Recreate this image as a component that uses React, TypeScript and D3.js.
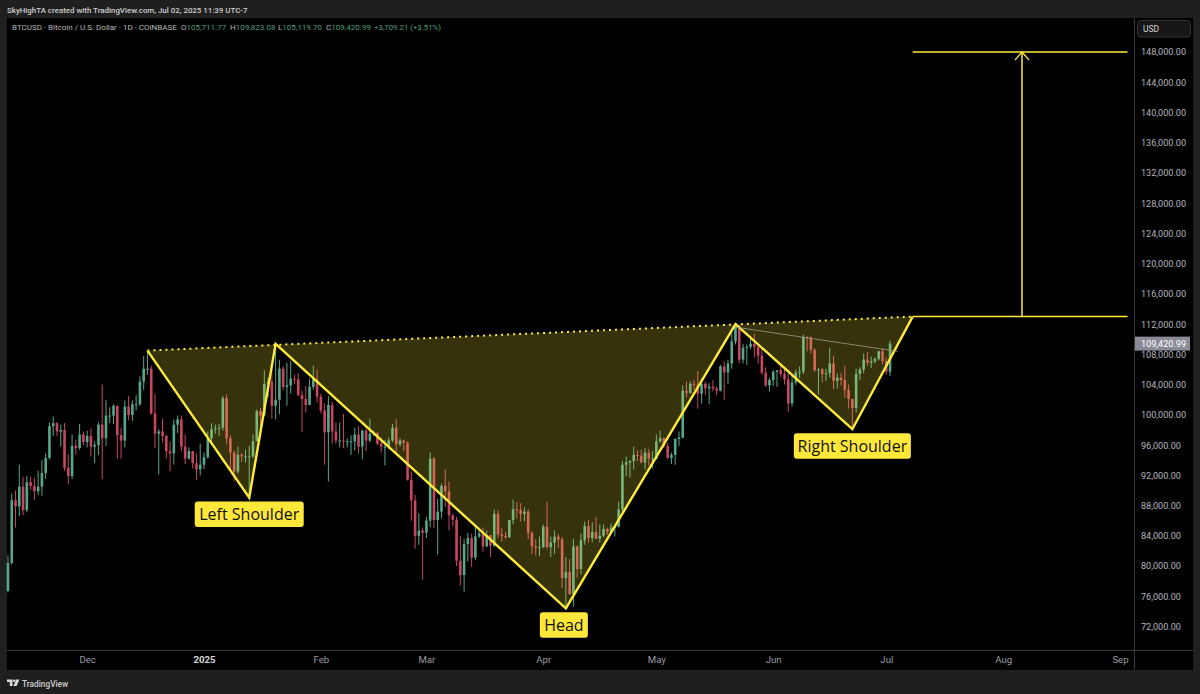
import React, { useEffect, useRef } from 'react';
import * as d3 from 'd3';

// daily candles in thousands of USD, starting 2024-11-10
const closes = [
  80.4, 88.7, 87.9, 90.5, 87.4, 91.1, 90.6, 89.9, 90.5, 92.3, 94.3, 98.5, 98.9, 97.8, 98.0, 93.0, 91.9, 95.9, 95.6, 97.4, 96.4,
  97.2, 95.8, 96.0, 98.7, 96.9, 99.9, 99.9, 101.2, 97.3, 96.6, 101.1, 100.0, 101.4, 101.4, 104.4, 106.1, 106.1, 100.2, 97.5, 97.8, 97.2, 95.2, 94.9, 98.7, 99.4, 95.8, 94.2, 95.2, 93.6, 92.8, 93.4,
  94.4, 96.9, 98.1, 98.2, 98.3, 102.2, 96.9, 95.0, 92.5, 94.7, 94.5, 94.5, 94.5, 96.5, 100.5, 99.9, 104.1, 104.4, 101.2, 102.0, 106.1, 103.7, 103.9, 104.8, 104.7, 102.6, 102.1, 101.3, 103.7, 104.7, 102.4,
  100.6, 97.7, 101.3, 97.8, 96.6, 96.6, 96.5, 96.5, 96.5, 97.4, 95.8, 97.9, 96.6, 97.5, 97.6, 96.2, 95.8, 95.8, 96.6, 98.3, 96.1, 96.6, 96.3, 91.4, 88.7, 84.0, 84.7, 84.4,
  86.0, 94.2, 86.1, 87.2, 90.6, 89.9, 86.7, 86.1, 80.7, 78.8, 82.9, 83.7, 81.1, 83.9, 84.3, 82.6, 84.1, 82.7, 86.9, 84.2, 84.0, 83.8, 86.1, 87.5, 87.4, 86.9, 87.2, 84.4, 82.6, 82.4, 82.5,
  85.2, 82.5, 83.1, 83.9, 83.5, 78.4, 79.2, 76.3, 82.6, 79.6, 83.4, 85.3, 83.7, 84.5, 83.6, 84.0, 84.9, 84.5, 85.1, 85.2, 87.5, 93.4, 93.7, 93.9, 94.7, 94.6, 93.7, 95.0, 94.2, 94.2,
  96.5, 96.9, 95.9, 94.3, 94.7, 96.8, 97.0, 103.2, 102.9, 104.1, 104.0, 102.8, 104.1, 103.5, 103.7, 103.5, 103.2, 106.4, 105.6, 106.8, 109.7, 111.7, 107.3, 108.9, 109.0, 109.4, 109.0, 107.8, 105.6, 103.9, 104.6,
  105.7, 105.9, 105.4, 104.7, 101.5, 104.3, 105.6, 105.7, 110.3, 110.2, 108.6, 105.9, 106.0, 105.4, 105.5, 106.8, 104.5, 104.9, 104.6, 103.3, 102.1, 100.9, 105.4, 106.0, 107.3, 106.9, 107.1, 107.4, 108.4, 107.1,
  105.7, 109.42,
];
const highs = [
  81.4, 89.6, 90.0, 93.4, 91.8, 91.9, 91.8, 91.7, 92.6, 94.0, 94.9, 99.0, 99.8, 99.0, 98.7, 98.9, 94.8, 97.4, 96.7, 98.8, 97.8,
  97.9, 98.2, 96.5, 99.0, 104.0, 102.0, 101.0, 101.4, 101.2, 98.3, 101.9, 102.5, 101.9, 102.6, 105.1, 107.8, 108.3, 106.5, 102.8, 98.1, 99.5, 97.4, 96.5, 99.4, 99.9, 99.9, 97.4, 95.7, 95.2, 94.9, 96.2,
  95.0, 97.8, 98.9, 98.7, 98.8, 102.5, 102.7, 97.3, 95.3, 95.8, 95.0, 95.4, 95.9, 97.4, 100.7, 100.9, 105.9, 104.9, 106.3, 109.4, 107.3, 106.4, 106.9, 107.1, 105.3, 105.5, 103.2, 103.8, 104.8, 106.5, 106.0,
  102.8, 101.5, 102.5, 101.7, 99.0, 99.0, 100.1, 96.9, 97.3, 98.3, 98.5, 98.1, 98.2, 99.5, 97.9, 97.7, 97.0, 96.7, 97.0, 98.8, 99.5, 96.9, 96.7, 96.5, 92.5, 89.4, 87.0, 85.1,
  86.5, 95.0, 94.4, 88.9, 90.9, 92.8, 91.2, 86.9, 86.5, 84.0, 83.6, 84.4, 84.3, 85.3, 84.7, 85.1, 84.7, 84.1, 87.5, 87.4, 85.0, 84.5, 86.0, 88.8, 88.5, 88.3, 87.8, 87.5, 84.6, 83.5, 83.9,
  85.5, 88.5, 83.9, 84.7, 84.2, 83.8, 81.2, 80.9, 83.6, 82.7, 84.3, 85.9, 86.1, 85.8, 86.5, 85.5, 85.5, 85.1, 85.6, 85.3, 88.5, 93.9, 94.5, 94.0, 95.8, 95.3, 95.4, 95.6, 95.5, 95.2,
  97.4, 97.9, 97.0, 96.3, 95.0, 96.9, 97.8, 103.9, 104.4, 104.4, 104.6, 105.8, 104.8, 104.4, 104.2, 104.6, 103.7, 106.6, 107.1, 107.3, 110.8, 112.0, 111.9, 109.4, 109.3, 110.4, 110.7, 109.3, 108.9, 106.3, 104.9,
  105.9, 105.9, 106.8, 106.0, 105.9, 105.3, 106.0, 106.4, 110.6, 110.4, 110.4, 108.8, 106.2, 106.2, 106.1, 108.9, 107.8, 105.5, 105.5, 106.5, 104.0, 102.1, 106.1, 106.3, 108.1, 108.3, 107.7, 107.6, 108.5, 108.8,
  107.6, 109.82,
];
const lows = [
  76.5, 80.2, 85.1, 86.6, 86.7, 87.1, 90.1, 88.7, 89.4, 89.3, 91.5, 94.1, 97.2, 97.2, 95.8, 92.6, 90.8, 91.5, 94.7, 95.4, 96.0,
  95.7, 94.5, 93.6, 94.7, 91.5, 95.9, 98.9, 98.8, 94.2, 94.2, 95.7, 99.3, 99.2, 100.6, 101.2, 103.3, 105.3, 100.0, 95.6, 92.1, 96.4, 94.2, 92.5, 93.4, 97.6, 95.2, 93.5, 94.1, 92.9, 91.4, 92.0,
  92.8, 94.2, 96.1, 97.5, 97.2, 97.9, 96.1, 92.5, 91.2, 92.2, 93.8, 93.7, 89.3, 94.3, 96.5, 97.3, 99.9, 102.3, 99.5, 99.4, 100.1, 103.3, 101.2, 102.8, 104.1, 102.5, 97.7, 100.3, 101.3, 103.3, 101.6,
  100.2, 93.4, 91.2, 96.2, 96.2, 95.7, 95.6, 95.7, 94.7, 95.3, 94.9, 94.1, 95.2, 96.4, 97.2, 96.0, 95.0, 93.3, 95.5, 96.4, 94.8, 95.8, 95.2, 91.3, 86.0, 82.3, 82.8, 78.2,
  83.7, 85.1, 85.0, 81.5, 86.3, 87.8, 84.7, 85.3, 80.0, 77.4, 76.6, 80.6, 79.9, 80.8, 83.7, 81.9, 82.5, 81.2, 82.5, 83.7, 83.2, 83.6, 83.8, 85.5, 86.3, 85.9, 85.9, 83.6, 81.6, 81.4, 81.3,
  82.4, 82.3, 81.2, 81.6, 82.4, 77.1, 74.4, 76.2, 74.6, 78.4, 78.9, 82.8, 83.1, 83.2, 83.6, 83.1, 83.8, 84.1, 84.4, 83.9, 85.1, 87.1, 91.9, 91.7, 92.8, 93.9, 93.6, 92.8, 93.3, 92.9,
  94.1, 96.3, 95.6, 94.2, 93.5, 93.4, 95.9, 96.9, 102.3, 102.8, 103.3, 100.8, 101.5, 102.6, 101.4, 103.1, 102.6, 103.1, 102.0, 104.1, 106.1, 109.3, 106.8, 106.8, 106.6, 108.7, 107.6, 106.8, 105.3, 103.7, 103.1,
  103.8, 103.7, 105.0, 104.0, 100.4, 101.1, 103.9, 104.9, 105.4, 108.4, 108.1, 105.7, 102.7, 104.3, 104.5, 104.9, 103.4, 103.5, 103.9, 102.3, 100.8, 98.2, 100.3, 104.6, 105.5, 106.5, 106.2, 106.8, 107.2, 106.7,
  105.3, 105.12,
];
const opens = [76.7, ...closes.slice(0, -1)];
const candleDates = d3.utcDay.range(new Date(Date.UTC(2024, 10, 10)), new Date(Date.UTC(2025, 6, 3)));

const priceTicks = d3.range(72, 149, 4);
const monthTicks = [
  new Date(Date.UTC(2024, 11, 1)), new Date(Date.UTC(2025, 0, 1)), new Date(Date.UTC(2025, 1, 1)),
  new Date(Date.UTC(2025, 2, 1)), new Date(Date.UTC(2025, 3, 1)), new Date(Date.UTC(2025, 4, 1)),
  new Date(Date.UTC(2025, 5, 1)), new Date(Date.UTC(2025, 6, 1)), new Date(Date.UTC(2025, 7, 1)),
  new Date(Date.UTC(2025, 8, 1)),
];

// inverse head and shoulders drawing
const patternDates = [
  new Date(Date.UTC(2024, 11, 17)), new Date(Date.UTC(2025, 0, 13)), new Date(Date.UTC(2025, 0, 20)),
  new Date(Date.UTC(2025, 3, 7)), new Date(Date.UTC(2025, 4, 22)), new Date(Date.UTC(2025, 5, 22)),
  new Date(Date.UTC(2025, 6, 8)),
];
const patternPrices = [108.5, 89.05, 109.4, 74.4, 112.0, 98.1, 113.0];
const neckPrice = 113.0;
const targetPrice = 148.0;
const targetStart = new Date(Date.UTC(2025, 6, 8));
const targetEnd = new Date(Date.UTC(2025, 8, 3));
const arrowDate = new Date(Date.UTC(2025, 7, 6));
const thinLineDates = [new Date(Date.UTC(2025, 4, 22)), new Date(Date.UTC(2025, 6, 4))];
const thinLinePrices = [111.6, 108.4];
const labelTexts = ['Left Shoulder', 'Head', 'Right Shoulder'];
const labelPoints = [1, 3, 5];
const labelWidths = [109, 48, 117];

const lastPrice = 109.42099;
const legendName = 'BTCUSD · Bitcoin / U.S. Dollar · 1D · COINBASE';
const legendKeys = ['O', 'H', 'L', 'C'];
const legendValues = ['105,711.77', '109,823.08', '105,119.70', '109,420.99'];
const legendChange = '+3,709.21 (+3.51%)';
const headerText = 'SkyHighTA created with TradingView.com, Jul 02, 2025 11:39 UTC-7';

const YELLOW = '#ffeb3b';
const UP = '#55a88a';
const DOWN = '#c8465f';
const GREY = '#b2b5be';
const FONT = 'Roboto, "Liberation Sans", sans-serif';

const App = () => {
  const ref = useRef<SVGSVGElement>(null);

  useEffect(() => {
    const svg = d3.select(ref.current);
    svg.selectAll('*').remove();
    svg.style('font-family', FONT);

    const x = d3.scaleUtc()
      .domain([new Date(Date.UTC(2025, 0, 1)), new Date(Date.UTC(2025, 8, 1))])
      .range([204, 1120]);
    const y = d3.scaleLinear().domain([72, 148]).range([626.5, 52]);

    // panels
    svg.append('rect').attr('width', 1200).attr('height', 694).attr('fill', '#1f1f1f');
    svg.append('rect').attr('x', 7).attr('y', 18).attr('width', 1186).attr('height', 652).attr('fill', '#000');
    svg.append('line').attr('x1', 7).attr('x2', 1193).attr('y1', 650.5).attr('y2', 650.5).attr('stroke', '#3a3a3a');
    svg.append('line').attr('x1', 1134.5).attr('x2', 1134.5).attr('y1', 18).attr('y2', 670).attr('stroke', '#3a3a3a');

    svg.append('text').attr('x', 7).attr('y', 13).attr('fill', '#cfcfcf').attr('font-size', 7.9)
      .attr('font-weight', 500).text(headerText);

    // candles
    const candles = svg.append('g');
    candleDates.forEach((d, i) => {
      const o = opens[i];
      const c = closes[i];
      const col = c >= o ? UP : DOWN;
      const cx = x(d);
      candles.append('line').attr('x1', cx).attr('x2', cx).attr('y1', y(highs[i])).attr('y2', y(lows[i]))
        .attr('stroke', col).attr('stroke-width', 1);
      candles.append('rect').attr('x', cx - 1.3).attr('width', 2.6)
        .attr('y', y(Math.max(o, c))).attr('height', Math.max(1, Math.abs(y(o) - y(c))))
        .attr('fill', col);
    });

    // pattern fill, lines
    const line = d3.line<number>()
      .x((i) => x(patternDates[i]))
      .y((i) => y(patternPrices[i]));
    const idx = d3.range(patternDates.length);
    svg.append('path').attr('d', line(idx) + 'Z').attr('fill', YELLOW).attr('fill-opacity', 0.21);
    svg.append('path').attr('d', line(idx)).attr('fill', 'none').attr('stroke', YELLOW).attr('stroke-width', 2.4);
    svg.append('line')
      .attr('x1', x(patternDates[0])).attr('y1', y(patternPrices[0]))
      .attr('x2', x(patternDates[6])).attr('y2', y(patternPrices[6]))
      .attr('stroke', YELLOW).attr('stroke-width', 2).attr('stroke-dasharray', '2 4');
    svg.append('line')
      .attr('x1', x(thinLineDates[0])).attr('y1', y(thinLinePrices[0]))
      .attr('x2', x(thinLineDates[1])).attr('y2', y(thinLinePrices[1]))
      .attr('stroke', '#9a9a8c').attr('stroke-width', 0.8);

    // target
    [neckPrice, targetPrice].forEach((p) => {
      svg.append('line').attr('x1', x(targetStart)).attr('x2', x(targetEnd)).attr('y1', y(p)).attr('y2', y(p))
        .attr('stroke', YELLOW).attr('stroke-width', 1.5);
    });
    const ax = x(arrowDate);
    svg.append('line').attr('x1', ax).attr('x2', ax).attr('y1', y(neckPrice)).attr('y2', y(targetPrice))
      .attr('stroke', YELLOW).attr('stroke-width', 1.5);
    svg.append('path').attr('d', `M${ax - 7},${y(targetPrice) + 8}L${ax},${y(targetPrice)}L${ax + 7},${y(targetPrice) + 8}`)
      .attr('fill', 'none').attr('stroke', YELLOW).attr('stroke-width', 1.2);

    // labels under the pivots
    labelTexts.forEach((t, i) => {
      const p = labelPoints[i];
      const cx = x(patternDates[p]) - (i === 1 ? 2 : 0);
      const top = y(patternPrices[p]) + 4;
      svg.append('rect').attr('x', cx - labelWidths[i] / 2).attr('y', top).attr('width', labelWidths[i]).attr('height', 25.5)
        .attr('rx', 3).attr('fill', '#ffe83a');
      svg.append('text').attr('x', cx).attr('y', top + 18.5).attr('text-anchor', 'middle')
        .attr('font-family', '"Open Sans", sans-serif').attr('font-size', 16).attr('font-weight', 500)
        .attr('fill', '#111').text(t);
    });

    // price axis
    const yAxis = svg.append('g').attr('transform', 'translate(1134,0)')
      .call(d3.axisRight(y).tickValues(priceTicks).tickSize(0).tickPadding(7)
        .tickFormat((d) => d3.format(',.2f')((d as number) * 1000)));
    yAxis.select('.domain').remove();
    yAxis.selectAll('text').attr('fill', GREY).attr('font-size', 9.1).attr('font-family', FONT);

    svg.append('rect').attr('x', 1135).attr('y', y(lastPrice) - 7).attr('width', 55).attr('height', 14)
      .attr('fill', '#8b8b98');
    svg.append('text').attr('x', 1141).attr('y', y(lastPrice) + 3.3).attr('fill', '#fff')
      .attr('font-size', 9.1).text(d3.format(',.2f')(lastPrice * 1000));

    svg.append('rect').attr('x', 1137.5).attr('y', 20.5).attr('width', 53).attr('height', 16.5).attr('rx', 3)
      .attr('fill', '#161616').attr('stroke', '#333');
    svg.append('text').attr('x', 1143).attr('y', 32).attr('fill', '#d8d8d8').attr('font-size', 8.5).text('USD');

    // time axis
    const xAxis = svg.append('g').attr('transform', 'translate(0,650)')
      .call(d3.axisBottom(x).tickValues(monthTicks).tickSize(0).tickPadding(6)
        .tickFormat((d) => (d.getUTCMonth() === 0 ? '2025' : d3.utcFormat('%b')(d as Date))));
    xAxis.select('.domain').remove();
    xAxis.selectAll('text').attr('fill', (d: any) => (d.getUTCMonth() === 0 ? '#d8d8d8' : '#9a9da6'))
      .attr('font-weight', (d: any) => (d.getUTCMonth() === 0 ? 700 : 400))
      .attr('font-size', 9.6).attr('font-family', FONT);

    // OHLC legend
    svg.append('text').attr('x', 12).attr('y', 30).attr('fill', '#b8b8b8').attr('font-size', 8).text(legendName);
    const legendX = [181, 230, 278, 326];
    legendKeys.forEach((k, i) => {
      const t = svg.append('text').attr('x', legendX[i]).attr('y', 30).attr('font-size', 8);
      t.append('tspan').attr('fill', '#b8b8b8').text(k);
      t.append('tspan').attr('fill', '#4f9e7f').text(legendValues[i]);
    });
    svg.append('text').attr('x', 374).attr('y', 30).attr('fill', '#4f9e7f').attr('font-size', 7.8).text(legendChange);

    // footer
    const logo = svg.append('g').attr('transform', 'translate(7,679)').attr('fill', '#dcdcdc');
    logo.append('path').attr('d', 'M0 0.5h5.5v6.5H2.8V3H0z');
    logo.append('circle').attr('cx', 7.2).attr('cy', 1.8).attr('r', 1.3);
    logo.append('path').attr('d', 'M9.2 0.5h3.2l-2.8 6.5H6.4z');
    svg.append('text').attr('x', 22).attr('y', 686.5).attr('fill', '#d0d0d0').attr('font-size', 8.3)
      .attr('font-weight', 500).text('TradingView');
  }, []);

  return <svg ref={ref} width={1200} height={694} style={{ position: 'absolute', left: 0, top: 0, display: 'block' }} />;
};

export default App;
